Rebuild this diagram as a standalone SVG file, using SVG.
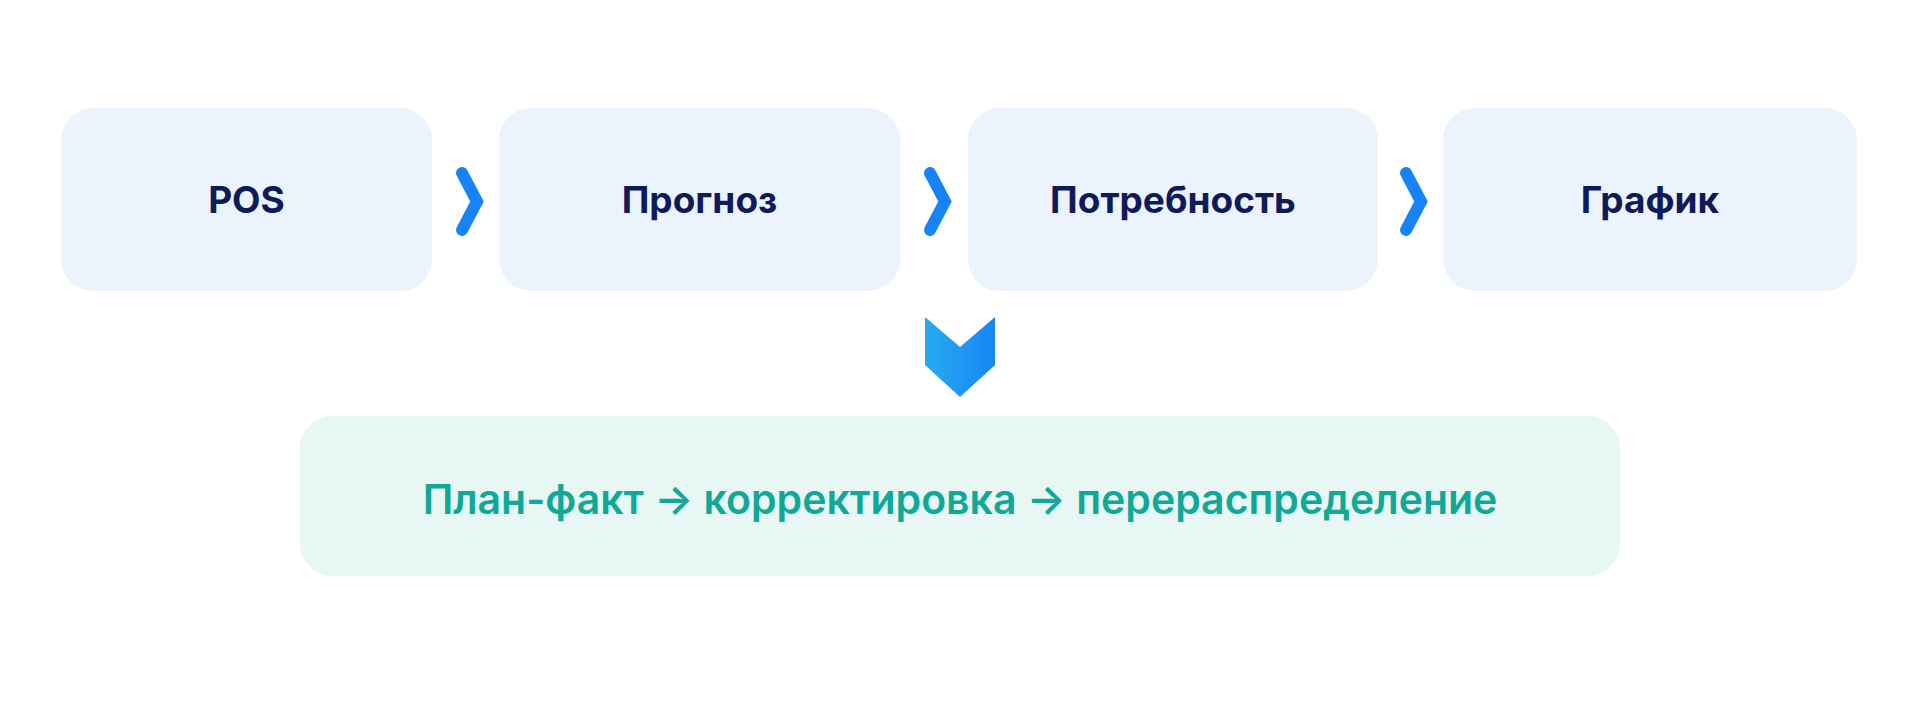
<svg xmlns="http://www.w3.org/2000/svg" width="1920" height="714" viewBox="0 0 1920 714">
<defs>
<linearGradient id="dg" x1="0" y1="0" x2="1" y2="0">
<stop offset="0" stop-color="#27aaf0"/>
<stop offset="1" stop-color="#1786f6"/>
</linearGradient>
<style>
.box{fill:#ebf3fd}
.box2{fill:#e8f7f4}
.t{font-family:Inter,"Noto Sans",sans-serif;font-weight:700;font-size:37px;fill:#0e1a5a;text-anchor:middle}
.t2{font-family:Inter,"Noto Sans",sans-serif;font-weight:600;font-size:41px;fill:#10a897;text-anchor:middle}
.chev{fill:none;stroke:#1784f5;stroke-width:12;stroke-linecap:round;stroke-linejoin:miter}
</style>
</defs>
<rect width="1920" height="714" fill="#ffffff"/>
<g id="node-pos"><rect class="box" x="61" y="108" width="371" height="183" rx="32"/><text class="t" x="246.5" y="213">POS</text></g>
<g id="node-prognoz"><rect class="box" x="499" y="108" width="401" height="183" rx="32"/><text class="t" x="699.5" y="213">Прогноз</text></g>
<g id="node-potrebnost"><rect class="box" x="968" y="108" width="410" height="183" rx="32"/><text class="t" x="1173" y="213">Потребность</text></g>
<g id="node-grafik"><rect class="box" x="1443" y="108" width="414" height="183" rx="32"/><text class="t" x="1650" y="213">График</text></g>
<g id="node-planfakt"><rect class="box2" x="300" y="416" width="1320" height="160" rx="32"/><text class="t2" x="960" y="514">План-факт → корректировка → перераспределение</text></g>
<g id="connectors">
<polyline class="chev" points="462,173 477,201.5 462,230"/>
<polyline class="chev" points="930,173 945,201.5 930,230"/>
<polyline class="chev" points="1406,173 1421,201.5 1406,230"/>
<polygon fill="url(#dg)" points="925,317 960,347 995,317 995,365 960,397 925,365"/>
</g>
</svg>
